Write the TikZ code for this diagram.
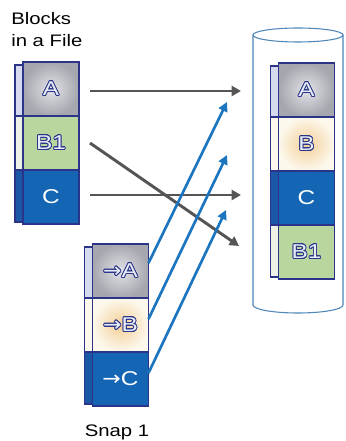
\documentclass[tikz,border=0pt]{standalone}
\usepackage{fontspec}
\setmainfont{Liberation Sans}[FakeStretch=1.22]
\newfontfamily\arrowfont{DejaVu Sans}[FakeStretch=1.1]
\usepackage{contour}
\usetikzlibrary{positioning,arrows.meta,calc}

\definecolor{edge}{HTML}{2B3488}
\definecolor{greyA}{HTML}{A6A6AE}
\definecolor{greyAin}{HTML}{E2E2E8}
\definecolor{greenB}{HTML}{B9D69E}
\definecolor{blueC}{HTML}{1466B4}
\definecolor{creamB}{HTML}{FCF8EC}
\definecolor{glowB}{HTML}{F4CF98}
\definecolor{letter}{HTML}{E8EEF8}
\definecolor{sideA}{HTML}{D6DAEE}
\definecolor{sideB}{HTML}{EEF2E6}
\definecolor{sideC}{HTML}{1A58A6}
\definecolor{flow}{HTML}{555555}
\definecolor{snapflow}{HTML}{1C75BF}
\definecolor{can}{HTML}{4F86B8}

\contourlength{0.6pt}
\newcommand{\ol}[1]{\textcolor{letter}{\contour{edge}{#1}}}
\newcommand{\ra}{{\arrowfont →}}

\begin{document}
\begin{tikzpicture}[x=0.75pt, y=-0.75pt,
        blk/.style={rectangle, draw=edge, line width=1.1pt, outer sep=0pt, inner sep=0pt, minimum width=42pt, minimum height=40.5pt, font=\fontsize{15}{15}\selectfont},
        blkA/.style={blk, shading=radial, inner color=greyAin, outer color=greyA},
        blkB/.style={blk, shading=radial, inner color=glowB, outer color=creamB},
        blkB1/.style={blk, fill=greenB},
        blkC/.style={blk, fill=blueC, text=white},
        side/.style={draw=edge, line width=1.1pt},
        arrow/.style={-{Triangle[length=7pt,width=7.5pt]}, line width=2.2pt, draw=flow},
        snaparrow/.style={-{Triangle[length=7pt,width=7pt]}, line width=2pt, draw=snapflow},
        caption/.style={font=\fontsize{12.5}{16.5}\selectfont, inner sep=0pt}
    ]
        \useasboundingbox (0,0) rectangle (345,441);

        % Store
        \draw[can, line width=0.8pt, fill=white] (253,35) -- (253,305) arc[start angle=180, end angle=0, x radius=45, y radius=8] -- (343,35);
        \draw[can, line width=0.8pt] (298,35) ellipse [x radius=45, y radius=7];

        % Blocks in a file
        \node[caption, anchor=north west, align=left] (filecap) at (11,12) {Blocks\\in a File};
        \node[blkA] (fa) at (51,89) {\ol{A}};
        \node[blkB1, below=0pt of fa] (fb1) {\ol{B1}};
        \node[blkC, below=0pt of fb1] (fc) {C};
        \filldraw[side, fill=sideA] ($(fa.north west)+(-8,3)$) rectangle (fa.south west);
        \filldraw[side, fill=sideB] ($(fb1.north west)+(-8,0)$) rectangle (fb1.south west);
        \filldraw[side, fill=sideC] ($(fc.north west)+(-8,0)$) rectangle ($(fc.south west)+(0,-2)$);

        % Snap 1
        \node[blkA] (sa) at (120.5,271) {\ol{\ra A}};
        \node[blkB, below=0pt of sa] (sb) {\ol{\ra B}};
        \node[blkC, below=0pt of sb] (sc) {\ra C};
        \filldraw[side, fill=sideA] ($(sa.north west)+(-8,3)$) rectangle (sa.south west);
        \filldraw[side, fill=creamB] ($(sb.north west)+(-8,0)$) rectangle (sb.south west);
        \filldraw[side, fill=sideC] ($(sc.north west)+(-8,0)$) rectangle ($(sc.south west)+(0,-2)$);
        \node[caption] (snapcap) at (117,432) {Snap 1};

        % Stored blocks
        \node[blkA] (ra) at (306.5,90) {\ol{A}};
        \node[blkB, below=0pt of ra] (rb) {\ol{B}};
        \node[blkC, below=0pt of rb] (rc) {C};
        \node[blkB1, below=0pt of rc] (rb1) {\ol{B1}};
        \filldraw[side, fill=sideA] ($(ra.north west)+(-8,3)$) rectangle (ra.south west);
        \filldraw[side, fill=creamB] ($(rb.north west)+(-8,0)$) rectangle (rb.south west);
        \filldraw[side, fill=sideC] ($(rc.north west)+(-8,0)$) rectangle (rc.south west);
        \filldraw[side, fill=sideB] ($(rb1.north west)+(-8,0)$) rectangle ($(rb1.south west)+(0,-2)$);

        % Arrow tips
        \coordinate (ga) at (241,91);
        \coordinate (gb1) at (239,246);
        \coordinate (gc) at (241,195);
        \coordinate (ta) at (227,102);
        \coordinate (tb) at (227,155);
        \coordinate (tc) at (226,210);

        % File to store
        \draw[arrow] ($(fa.east)+(11,2)$) -- (ga);
        \draw[arrow] ($(fb1.east)+(11,0)$) -- (gb1);
        \draw[arrow] ($(fc.east)+(11,-2)$) -- (gc);

        % Snap to store
        \draw[snaparrow] ($(sa.east)+(0,-8)$) -- (ta);
        \draw[snaparrow] ($(sb.east)+(0,-6)$) -- (tb);
        \draw[snaparrow] ($(sc.east)+(0,-6)$) -- (tc);

    \end{tikzpicture}
\end{document}
